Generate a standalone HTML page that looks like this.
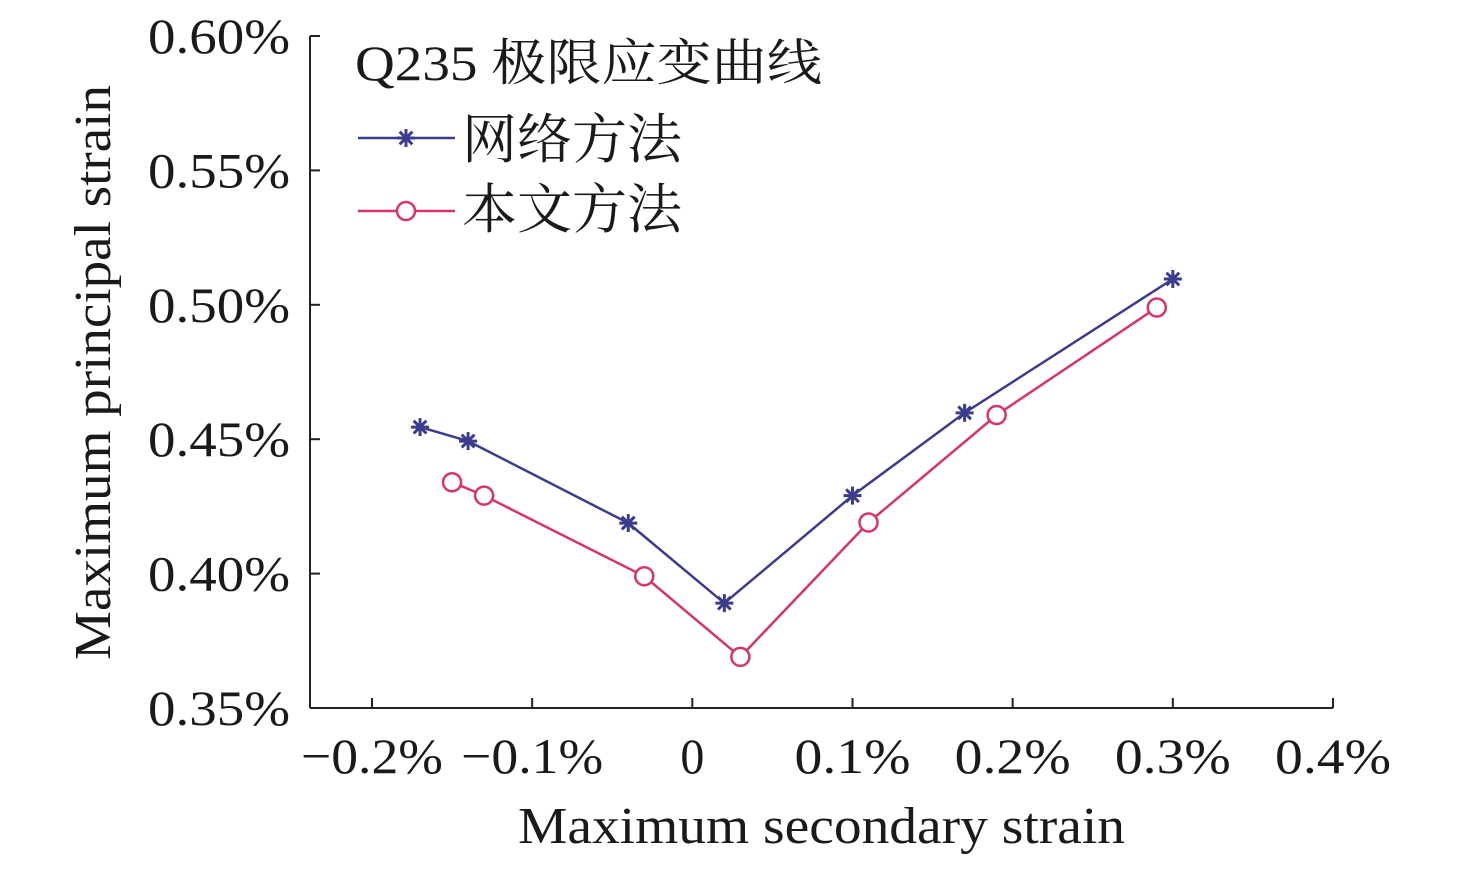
<!DOCTYPE html>
<html><head><meta charset="utf-8"><style>
html,body{margin:0;padding:0;background:#fff;}
svg text{font-family:"Liberation Serif","Noto Serif CJK SC",serif;fill:#1a1a1a;}
</style></head><body>
<svg width="1476" height="866" viewBox="0 0 1476 866" id="chart">
<g id="axes"></g>
<g id="series"></g>
<g>
  <text x="355" y="80" font-size="50" textLength="467" lengthAdjust="spacingAndGlyphs">Q235 极限应变曲线</text>
  <line x1="358" y1="138" x2="455" y2="138" stroke="#3c3c8e" stroke-width="2.5"/>
  <g transform="translate(406,138)" stroke="#3c3c8e" stroke-width="3">
    <line x1="-9" y1="0" x2="9" y2="0"/><line x1="-9" y1="0" x2="9" y2="0" transform="rotate(45)"/>
    <line x1="-9" y1="0" x2="9" y2="0" transform="rotate(90)"/><line x1="-9" y1="0" x2="9" y2="0" transform="rotate(135)"/>
  </g>
  <text x="462" y="158" font-size="54" textLength="220" lengthAdjust="spacingAndGlyphs">网络方法</text>
  <line x1="358" y1="211" x2="455" y2="211" stroke="#d9336a" stroke-width="2.5"/>
  <circle cx="406" cy="211" r="9" fill="#fff" stroke="#d9336a" stroke-width="2.5"/>
  <text x="462" y="228" font-size="54" textLength="220" lengthAdjust="spacingAndGlyphs">本文方法</text>
</g>
</svg>
<script>
const blueX=[-0.17,-0.14,-0.04,0.02,0.10,0.17,0.30];
const blueY=[0.4545,0.4493,0.4188,0.389,0.429,0.4598,0.5096];
const redX=[-0.15,-0.13,-0.03,0.03,0.11,0.19,0.29];
const redY=[0.434,0.429,0.399,0.369,0.419,0.459,0.499];
const xTicks=[-0.2,-0.1,0,0.1,0.2,0.3,0.4];
const xTickLabels=["\u22120.2%","\u22120.1%","0","0.1%","0.2%","0.3%","0.4%"];
const yTicks=[0.35,0.40,0.45,0.50,0.55,0.60];
const yTickLabels=["0.35%","0.40%","0.45%","0.50%","0.55%","0.60%"];
const NS="http://www.w3.org/2000/svg";
const X0=310,X1=1333,Y0=708,Y1=36;
const xMin=-0.2387,xMax=0.4,yMin=0.35,yMax=0.60;
function sx(v){return X0+(v-xMin)/(xMax-xMin)*(X1-X0);}
function sy(v){return Y0-(v-yMin)/(yMax-yMin)*(Y0-Y1);}
function mk(tag,attrs,parent){const e=document.createElementNS(NS,tag);for(const k in attrs)e.setAttribute(k,attrs[k]);parent.appendChild(e);return e;}
const ax=document.getElementById('axes');
let e=mk('line',{x1:X0,y1:Y1,x2:X0,y2:Y0,stroke:'#222','stroke-width':2},ax);


e=mk('line',{x1:X0,y1:Y0,x2:X1,y2:Y0,stroke:'#222','stroke-width':2},ax);


yTicks.forEach((v,i)=>{
  const t=mk('line',{x1:X0,y1:sy(v),x2:X0+10,y2:sy(v),stroke:'#222','stroke-width':2},ax);
  
  
  const l=mk('text',{x:148,y:sy(v)+17,'font-size':50,textLength:142,lengthAdjust:'spacingAndGlyphs'},ax);
  l.textContent=yTickLabels[i];
  
  
});
xTicks.forEach((v,i)=>{
  const t=mk('line',{x1:sx(v),y1:Y0,x2:sx(v),y2:Y0-10,stroke:'#222','stroke-width':2},ax);
  
  
  const lab=xTickLabels[i];
  const w=lab==='0'?24:(lab[0]==='\u2212'?142:116);
  const l=mk('text',{x:sx(v)-w/2,y:773,'font-size':50,textLength:w,lengthAdjust:'spacingAndGlyphs'},ax);
  l.textContent=lab;
  
  
});
e=mk('text',{x:518,y:843,'font-size':52,textLength:607,lengthAdjust:'spacingAndGlyphs'},ax);
e.textContent='Maximum secondary strain';


e=mk('text',{x:0,y:0,'font-size':52,textLength:575,lengthAdjust:'spacingAndGlyphs',transform:'translate(110,660) rotate(-90)'},ax);
e.textContent='Maximum principal strain';


const sg=document.getElementById('series');
function drawSeries(xs,ys,color,name,marker){
  const p=mk('polyline',{points:xs.map((x,i)=>sx(x)+','+sy(ys[i])).join(' '),fill:'none',stroke:color,'stroke-width':2.5},sg);
  
  
  xs.forEach((x,i)=>{
    let m;
    if(marker==='star'){
      m=mk('g',{transform:'translate('+sx(x)+','+sy(ys[i])+')',stroke:color,'stroke-width':3},sg);
      [0,45,90,135].forEach(a=>mk('line',{x1:-9,y1:0,x2:9,y2:0,transform:'rotate('+a+')'},m));
    }else{
      m=mk('circle',{cx:sx(x),cy:sy(ys[i]),r:9,fill:'#fff',stroke:color,'stroke-width':2.5},sg);
    }
    
    
  });
}
drawSeries(blueX,blueY,'#3c3c8e','grid-method','star');
drawSeries(redX,redY,'#d9336a','proposed-method','circle');
</script>
</body></html>
